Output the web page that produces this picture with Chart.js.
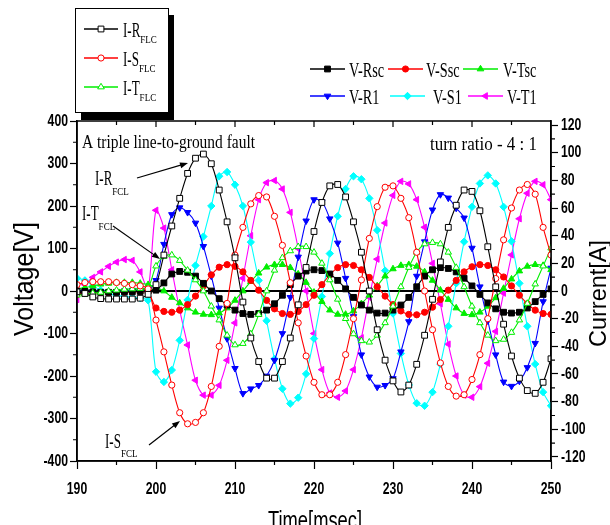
<!DOCTYPE html>
<html>
<head>
<meta charset="utf-8">
<script src="https://cdn.jsdelivr.net/npm/chart.js@4.4.0/dist/chart.umd.min.js"></script>
<style>
  html, body { margin: 0; padding: 0; background: #fff; }
</style>
</head>
<body>
<canvas id="chart" width="610" height="525"></canvas>
<script>
// time axis [msec], one sample per marker
const times = [190,191,192,193,194,195,196,197,198,199,
  200,201,202,203,204,205,206,207,208,209,
  210,211,212,213,214,215,216,217,218,219,
  220,221,222,223,224,225,226,227,228,229,
  230,231,232,233,234,235,236,237,238,239,
  240,241,242,243,244,245,246,247,248,249,250];

// voltages [V] (left axis)
const vRsc = [0,-1,-2,-3,-3,-3,-2,-2,-1,0,
  2,19,40,46,44,35,18,0,-18,-33,
  -45,-53,-55,-53,-45,-30,-10,15,35,47,
  50,48,40,25,5,-15,-33,-45,-52,-52,
  -45,-33,-15,10,35,50,55,53,45,30,
  12,-8,-28,-42,-50,-52,-50,-40,-25,-8,5];
const vSsc = [-8,-6,-5,-4,-4,-3,-3,-2,-2,-3,
  -40,-48,-50,-45,-32,-12,12,38,56,62,
  58,45,25,2,-22,-42,-53,-55,-48,-32,
  -10,15,38,55,62,60,50,32,10,-12,
  -32,-47,-55,-56,-50,-38,-20,2,25,45,
  57,62,60,50,33,12,-10,-30,-45,-53,-55];
const vTsc = [5,8,12,16,18,20,20,20,18,15,
  8,0,-15,-28,-40,-50,-55,-56,-52,-40,
  -22,0,22,42,56,62,62,55,40,20,
  -3,-25,-45,-55,-55,-47,-30,-10,12,35,
  52,60,62,58,45,25,2,-20,-40,-53,
  -56,-50,-36,-16,6,28,47,58,62,60,50];
const vR1 = [2,0,-2,-3,-3,-2,0,2,3,3,
  25,110,180,196,185,160,105,35,-40,-112,
  -182,-241,-230,-222,-200,-163,-100,-15,80,165,
  215,210,170,113,30,-60,-150,-202,-226,-222,
  -206,-143,-72,35,116,191,227,219,195,172,
  101,10,-70,-150,-214,-224,-212,-180,-123,-25,54];
const vS1 = [30,25,12,2,-5,-10,-13,-15,-17,-22,
  -190,-214,-186,-116,-21,60,128,200,270,280,
  250,200,115,25,-70,-160,-230,-265,-251,-195,
  -112,-13,88,176,240,270,263,218,143,48,
  -53,-147,-221,-264,-270,-238,-172,-83,18,116,
  198,253,272,253,198,117,18,-83,-172,-238,-270];
const vT1 = [-20,15,32,45,58,68,74,72,45,5,
  190,148,50,-45,-127,-210,-245,-245,-222,-163,
  -75,30,130,215,255,260,240,185,100,0,
  -100,-185,-240,-250,-235,-185,-110,-15,75,160,
  225,258,252,215,150,65,-30,-125,-200,-245,
  -250,-225,-170,-95,-5,85,170,230,258,250,215];

// FCL currents [A] (right axis)
const iR = [-0.6,-1.8,-4.3,-5.5,-5.8,-5.8,-5.8,-5.8,-5.2,-2.4,
  4.6,26,47,67,85,96,99,92,73,50,
  24,-8,-34,-51,-63,-63,-51,-34,-10,17,
  43,64,76,77,68,50,28,0,-28,-50,
  -65,-73,-68,-53,-32,-6,21,46,62,73,
  72,58,32,3,-24,-47,-63,-72,-74,-66,-49];
const iS = [4.6,6.1,6.7,6.7,6.7,6.1,5.5,4.6,3.7,1.5,
  -21,-44,-68,-88,-96,-95,-88,-69,-40,-9,
  26,46,63,69,68,54,33,6,-23,-47,
  -66,-75,-75,-66,-46,-20,8,38,61,75,
  76,67,53,28,0,-28,-52,-69,-76,-75,
  -64,-46,-20,9,37,60,73,77,70,46,26];
const iT = [-3,-2.4,-1.5,-1,0,0.6,1.2,1.5,1.8,2.4,
  18,25,26,22,15,8,0,-11,-21,-32,
  -39,-38,-31,-17,0,15,24,29,32,32,
  28,20,8,-6,-20,-31,-36,-37,-32,-23,
  -11,3,17,28,34,35,34,28,17,3,
  -11,-23,-32,-36,-35,-30,-21,-9,5,18,31];

const currentTicks = [-120,-100,-80,-60,-40,-20,0,20,40,60,80,100,120];

const serif = "'Liberation Serif','DejaVu Serif',serif";
const sans = "'Liberation Sans','Arimo',Arial,sans-serif";
const labelFont = 'bold 17px ' + sans;

function pts(arr) {
  return times.map((t, i) => ({ x: t, y: arr[i] }));
}

function series(label, sub, arr, color, style, rot, open, axis) {
  return {
    label: label, sub: sub,
    data: pts(arr),
    yAxisID: axis,
    borderColor: color,
    backgroundColor: color,
    borderWidth: 1.1,
    tension: 0.3,
    pointStyle: style,
    pointRotation: rot,
    pointRadius: style === 'rect' ? 4.1 : (style === 'circle' ? 3.1 : 3.7),
    pointBorderWidth: 1,
    pointBorderColor: color,
    pointBackgroundColor: open ? '#fff' : color
  };
}

const datasets = [
  series('I-R', 'FLC', iR, '#000000', 'rect', 0, true, 'y1'),
  series('I-S', 'FLC', iS, '#ff0000', 'circle', 0, true, 'y1'),
  series('I-T', 'FLC', iT, '#00ee00', 'triangle', 0, true, 'y1'),
  series('V-Rsc', '', vRsc, '#000000', 'rect', 0, false, 'y'),
  series('V-Ssc', '', vSsc, '#ff0000', 'circle', 0, false, 'y'),
  series('V-Tsc', '', vTsc, '#00ee00', 'triangle', 0, false, 'y'),
  series('V-R1', '', vR1, '#0000ff', 'triangle', 180, false, 'y'),
  series('V-S1', '', vS1, '#00ffff', 'rectRot', 0, false, 'y'),
  series('V-T1', '', vT1, '#ff00ff', 'triangle', 270, false, 'y')
];

// marker drawing for the hand-made legends
function marker(ctx, ds, x, y) {
  const r = ds.pointRadius;
  ctx.save();
  ctx.translate(x, y);
  ctx.rotate((ds.pointRotation || 0) * Math.PI / 180);
  ctx.beginPath();
  if (ds.pointStyle === 'rect') {
    const s = r * Math.SQRT1_2;
    ctx.rect(-s, -s, 2 * s, 2 * s);
  } else if (ds.pointStyle === 'circle') {
    ctx.arc(0, 0, r, 0, Math.PI * 2);
  } else if (ds.pointStyle === 'rectRot') {
    ctx.moveTo(0, -r); ctx.lineTo(r, 0); ctx.lineTo(0, r); ctx.lineTo(-r, 0); ctx.closePath();
  } else {
    const h = r * 1.5;
    ctx.moveTo(0, -h * 2 / 3);
    ctx.lineTo(r * 0.9, h / 3);
    ctx.lineTo(-r * 0.9, h / 3);
    ctx.closePath();
  }
  ctx.fillStyle = ds.pointBackgroundColor;
  ctx.fill();
  ctx.lineWidth = 1;
  ctx.strokeStyle = ds.borderColor;
  ctx.stroke();
  ctx.restore();
}

function measure(ctx, s, font) {
  ctx.save();
  ctx.font = font;
  const w = ctx.measureText(s).width;
  ctx.restore();
  return w;
}

// condensed text: squeezes horizontally by sx, returns drawn width
function txt(ctx, s, x, y, font, sx, rot, base) {
  ctx.save();
  ctx.font = font;
  ctx.fillStyle = '#000';
  ctx.translate(x, y);
  if (rot) ctx.rotate(rot);
  ctx.scale(sx, 1);
  ctx.textBaseline = base || 'alphabetic';
  ctx.fillText(s, 0, 0);
  const w = ctx.measureText(s).width * sx;
  ctx.restore();
  return w;
}

function fit(ctx, s, font, width) {
  return width / measure(ctx, s, font);
}

function legendEntry(ctx, ds, x0, x1, yc, tx, size, sx) {
  ctx.save();
  ctx.strokeStyle = ds.borderColor;
  ctx.lineWidth = 1.3;
  ctx.beginPath(); ctx.moveTo(x0, yc); ctx.lineTo(x1, yc); ctx.stroke();
  ctx.restore();
  marker(ctx, ds, (x0 + x1) / 2, yc);
  const w = txt(ctx, ds.label, tx, yc + 8, size + 'px ' + serif, sx);
  if (ds.sub) txt(ctx, ds.sub, tx + w, yc + 14, '10px ' + serif, 0.9);
}

function arrow(ctx, x0, y0, x1, y1) {
  const a = Math.atan2(y1 - y0, x1 - x0);
  ctx.save();
  ctx.strokeStyle = '#000'; ctx.fillStyle = '#000'; ctx.lineWidth = 1.2;
  ctx.beginPath(); ctx.moveTo(x0, y0); ctx.lineTo(x1 - 5 * Math.cos(a), y1 - 5 * Math.sin(a)); ctx.stroke();
  ctx.beginPath();
  ctx.moveTo(x1, y1);
  ctx.lineTo(x1 - 8 * Math.cos(a) + 3 * Math.sin(a), y1 - 8 * Math.sin(a) - 3 * Math.cos(a));
  ctx.lineTo(x1 - 8 * Math.cos(a) - 3 * Math.sin(a), y1 - 8 * Math.sin(a) + 3 * Math.cos(a));
  ctx.closePath(); ctx.fill();
  ctx.restore();
}

const deco = {
  id: 'deco',
  beforeDatasetsDraw(chart) {
    const { ctx, chartArea: a, scales } = chart;
    const y0 = scales.y.getPixelForValue(0);
    ctx.save();
    ctx.strokeStyle = '#000'; ctx.lineWidth = 2.2;
    ctx.beginPath(); ctx.moveTo(a.left, y0); ctx.lineTo(a.right, y0); ctx.stroke();
    ctx.restore();
  },
  afterDraw(chart) {
    const { ctx, chartArea: a, scales: { x, y, y1 } } = chart;
    const ds = chart.data.datasets;
    ctx.save();
    ctx.strokeStyle = '#000'; ctx.lineWidth = 1.5;
    ctx.strokeRect(a.left, a.top, a.right - a.left, a.bottom - a.top);
    // minor ticks + top ticks
    ctx.lineWidth = 1.2;
    ctx.beginPath();
    for (let v = 195; v < 250; v += 10) { const p = x.getPixelForValue(v); ctx.moveTo(p, a.bottom); ctx.lineTo(p, a.bottom + 4); }
    for (let v = 195; v < 250; v += 5) { const p = x.getPixelForValue(v); ctx.moveTo(p, a.top); ctx.lineTo(p, a.top + (v % 10 ? 4 : 6)); }
    for (let v = -350; v < 400; v += 100) { const p = y.getPixelForValue(v); ctx.moveTo(a.left, p); ctx.lineTo(a.left - 4, p); }
    for (let v = -110; v < 120; v += 20) { const p = y1.getPixelForValue(v); ctx.moveTo(a.right, p); ctx.lineTo(a.right + 4, p); }
    ctx.stroke();
    ctx.restore();

    // condensed bold tick labels, placed by the scales
    const sq = 0.72;
    x.ticks.forEach(t => {
      const s = String(t.value), w = measure(ctx, s, labelFont) * sq;
      txt(ctx, s, x.getPixelForValue(t.value) - w / 2, 489, labelFont, sq, 0, 'middle');
    });
    y.ticks.forEach(t => {
      const s = String(t.value), w = measure(ctx, s, labelFont) * sq;
      txt(ctx, s, 68 - w, y.getPixelForValue(t.value), labelFont, sq, 0, 'middle');
    });
    y1.ticks.forEach(t => {
      txt(ctx, String(t.value), 561, y1.getPixelForValue(t.value), labelFont, sq, 0, 'middle');
    });

    // axis titles
    const fv = '28px ' + sans;
    txt(ctx, 'Voltage[V]', 33, 336, fv, fit(ctx, 'Voltage[V]', fv, 114), -Math.PI / 2);
    const fc = '24px ' + sans;
    txt(ctx, 'Current[A]', 606, 347, fc, fit(ctx, 'Current[A]', fc, 107), -Math.PI / 2);
    const ft = '26px ' + sans;
    txt(ctx, 'Time[msec]', 268, 529, ft, fit(ctx, 'Time[msec]', ft, 94));

    // boxed current legend with shadow
    ctx.save();
    ctx.fillStyle = '#000';
    ctx.fillRect(81, 15, 93, 105);
    ctx.fillStyle = '#fff';
    ctx.fillRect(75, 8, 93, 104);
    ctx.strokeStyle = '#000'; ctx.lineWidth = 1;
    ctx.strokeRect(75.5, 8.5, 93, 104);
    ctx.restore();
    legendEntry(ctx, ds[0], 84, 118, 29, 123, 21, 0.62);
    legendEntry(ctx, ds[1], 84, 118, 58, 123, 21, 0.62);
    legendEntry(ctx, ds[2], 84, 118, 87, 123, 21, 0.62);

    // voltage legend
    legendEntry(ctx, ds[3], 310, 345, 69, 349, 21, 0.68);
    legendEntry(ctx, ds[4], 388, 423, 69, 426, 21, 0.68);
    legendEntry(ctx, ds[5], 463, 498, 69, 503, 21, 0.68);
    legendEntry(ctx, ds[6], 310, 345, 96, 349, 21, 0.68);
    legendEntry(ctx, ds[7], 390, 425, 96, 433, 21, 0.68);
    legendEntry(ctx, ds[8], 468, 503, 96, 507, 21, 0.68);

    // annotations
    const fa = '18px ' + serif;
    txt(ctx, 'A triple line-to-ground fault', 82, 148, fa, fit(ctx, 'A triple line-to-ground fault', fa, 173));
    txt(ctx, 'turn ratio - 4 : 1', 430, 150, fa, fit(ctx, 'turn ratio - 4 : 1', fa, 107));
    const fl = '21px ' + serif, fs = '10px ' + serif;
    let w = txt(ctx, 'I-R', 95, 185, fl, 0.62); txt(ctx, 'FCL', 95 + w, 195, fs, 0.9);
    w = txt(ctx, 'I-T', 82, 220, fl, 0.62); txt(ctx, 'FCL', 82 + w, 230, fs, 0.9);
    w = txt(ctx, 'I-S', 105, 448, fl, 0.62); txt(ctx, 'FCL', 105 + w, 457, fs, 0.9);
    arrow(ctx, 137, 178, 188, 163);
    arrow(ctx, 113, 226, 160, 259);
    arrow(ctx, 149, 445, 180, 421);
  }
};

new Chart(document.getElementById('chart'), {
  type: 'line',
  data: { datasets: datasets },
  options: {
    responsive: false,
    animation: false,
    devicePixelRatio: 1,
    layout: { padding: { top: 121, left: 0, right: 0, bottom: 0 } },
    plugins: { legend: { display: false }, tooltip: { enabled: false } },
    scales: {
      x: {
        type: 'linear', min: 190, max: 250,
        ticks: { stepSize: 10, display: false },
        grid: { drawOnChartArea: false, tickLength: 8, tickWidth: 1.2, tickColor: '#000' },
        border: { display: true, color: '#000', width: 1.5 },
        afterFit: s => { s.height = 64; }
      },
      y: {
        type: 'linear', position: 'left', min: -400, max: 400,
        ticks: { stepSize: 100, display: false },
        grid: { drawOnChartArea: false, tickLength: 7, tickWidth: 1.2, tickColor: '#000' },
        border: { display: true, color: '#000', width: 1.5 },
        afterFit: s => { s.width = 77; }
      },
      y1: {
        type: 'linear', position: 'right', min: -122.9, max: 122.9,
        afterBuildTicks: s => { s.ticks = currentTicks.map(v => ({ value: v })); },
        ticks: { display: false },
        grid: { drawOnChartArea: false, tickLength: 7, tickWidth: 1.2, tickColor: '#000' },
        border: { display: true, color: '#000', width: 1.5 },
        afterFit: s => { s.width = 59; }
      }
    }
  },
  plugins: [deco]
});
</script>
</body>
</html>
